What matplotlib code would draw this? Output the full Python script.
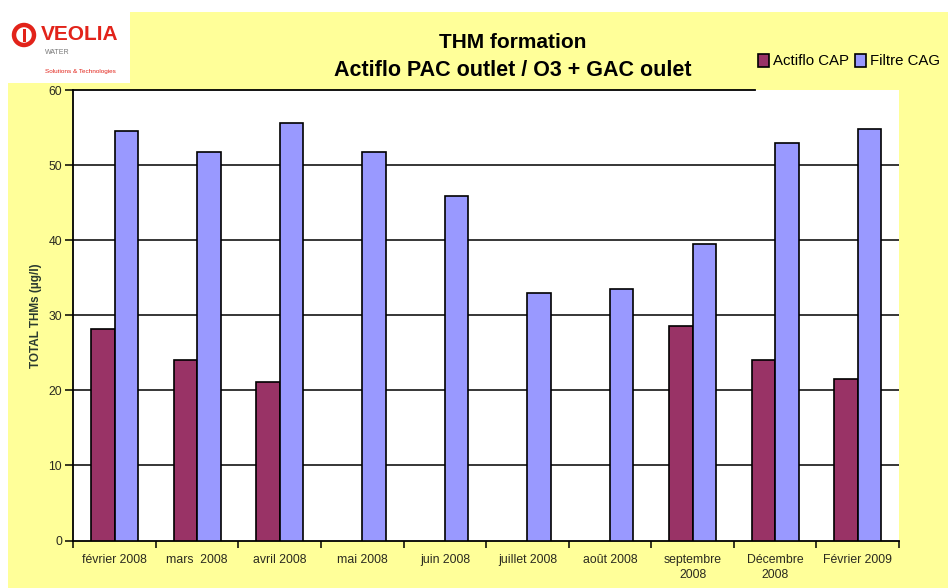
import matplotlib
matplotlib.use("Agg")
import matplotlib.pyplot as plt
from matplotlib.patches import Rectangle, Patch, Circle
import numpy as np

plt.rcParams['font.family'] = ['Liberation Sans', 'DejaVu Sans']

categories = ["février 2008", "mars  2008", "avril 2008", "mai 2008", "juin 2008",
              "juillet 2008", "août 2008", "septembre\n2008", "Décembre\n2008", "Février 2009"]
actiflo_cap = [28.2, 24.0, 21.1, None, None, None, None, 28.6, 24.1, 21.5]
filtre_cag = [54.5, 51.7, 55.6, 51.7, 45.9, 33.0, 33.5, 39.5, 52.9, 54.8]
series_names = ["Actiflo CAP", "Filtre CAG"]
yticks = [0, 10, 20, 30, 40, 50, 60]

W, H = 948, 588
fig = plt.figure(figsize=(W / 100, H / 100), dpi=100, facecolor="white")

# yellow chart-area background
fig.patches.append(Rectangle((8 / W, 0), 1 - 8 / W, (H - 12) / H, transform=fig.transFigure,
                             facecolor="#FFFF99", edgecolor="none", zorder=-20))
# white logo area
fig.patches.append(Rectangle((8 / W, (H - 83) / H), 122 / W, 71 / H, transform=fig.transFigure,
                             facecolor="white", edgecolor="none", zorder=-19))

# logo
lax = fig.add_axes([8 / W, (H - 83) / H, 122 / W, 71 / H])
lax.set_xlim(8, 130)
lax.set_ylim(83, 12)
lax.axis("off")
lax.add_patch(Circle((24, 35), 10, fill=False, edgecolor="#E2231A", linewidth=3.2))
lax.add_patch(Rectangle((22.5, 29), 3, 13, facecolor="#E2231A", edgecolor="none"))
lax.text(41, 35, "VEOLIA", color="#E2231A", fontsize=15, fontweight="bold", ha="left", va="center")
lax.text(45, 53, "WATER", color="#777777", fontsize=5, ha="left", va="center")
lax.text(45, 72, "Solutions & Technologies", color="#E2231A", fontsize=4.6, ha="left", va="center")

# main axes
x0, x1, yb, yt = 73.3, 899, 540.5, 90
ax = fig.add_axes([x0 / W, (H - yb) / H, (x1 - x0) / W, (yb - yt) / H])
ax.set_facecolor("white")

x = np.arange(len(categories))
bw = 0.283
cap_x = [xi - bw / 2 for xi, v in zip(x, actiflo_cap) if v is not None]
cap_v = [v for v in actiflo_cap if v is not None]
ax.bar(cap_x, cap_v, width=bw, color="#993366", edgecolor="black", linewidth=1.2, zorder=3)
ax.bar(x + bw / 2, filtre_cag, width=bw, color="#9999FF", edgecolor="black", linewidth=1.2, zorder=3)

ax.set_xlim(-0.5, len(categories) - 0.5)
ax.set_ylim(0, 60)

for yv in yticks[1:-1]:
    ax.axhline(yv, color="black", linewidth=1.1, zorder=1)
ax.axhline(60, xmin=0, xmax=0.826, color="black", linewidth=1.3, zorder=1, clip_on=False)

for s in ["top", "right"]:
    ax.spines[s].set_visible(False)
for s in ["left", "bottom"]:
    ax.spines[s].set_color("black")
    ax.spines[s].set_linewidth(1.3)

ax.set_yticks(yticks)
ax.set_yticklabels([str(v) for v in yticks])
ax.tick_params(axis="y", direction="out", length=6, width=1.1, labelsize=8.8, colors="black",
               labelcolor="#2a2a20", pad=2)

ax.set_xticks(x)
ax.set_xticklabels(categories, linespacing=1.3)
ax.set_xticks(np.arange(-0.5, len(categories), 1.0), minor=True)
ax.tick_params(axis="x", which="major", length=0, labelsize=8.8, labelcolor="#2a2a20", pad=10)
ax.tick_params(axis="x", which="minor", direction="out", length=5, width=1.1, colors="black")

ax.set_ylabel("TOTAL THMs (µg/l)", fontsize=8.5, fontweight="bold", color="#2a3a30", labelpad=5)

# title
fig.text(513 / W, 1 - 43 / H, "THM formation", ha="center", va="center",
         fontsize=15, fontweight="bold", color="black")
fig.text(513 / W, 1 - 70 / H, "Actiflo PAC outlet / O3 + GAC oulet", ha="center", va="center",
         fontsize=15.5, fontweight="bold", color="black")

# legend
handles = [Patch(facecolor="#993366", edgecolor="black", linewidth=1.2),
           Patch(facecolor="#9999FF", edgecolor="black", linewidth=1.2)]
fig.legend(handles, series_names, loc="center left", bbox_to_anchor=(758 / W, 1 - 61 / H),
           ncol=2, frameon=False, fontsize=10.8, handlelength=0.75, handleheight=0.95,
           handletextpad=0.25, columnspacing=0.4, borderpad=0, borderaxespad=0)

fig.savefig("out.png", dpi=100, facecolor=fig.get_facecolor())
